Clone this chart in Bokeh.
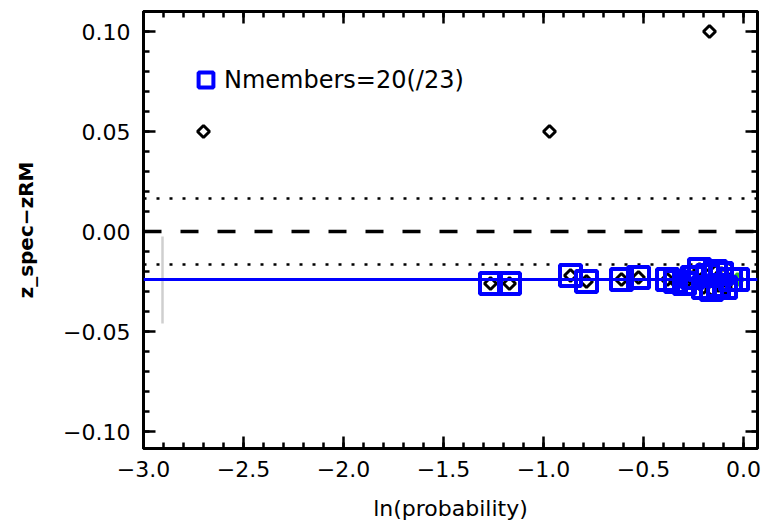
import math

from bokeh.plotting import figure
from bokeh.models import (Range1d, Span, LinearAxis, SingleIntervalTicker,
                          CustomJSTickFormatter, CustomLabelingPolicy,
                          Legend, LegendItem)
from bokeh.embed import file_html
from bokeh.resources import INLINE

# ln(probability) and z_spec - zRM for the confirmed cluster members
member_lnp = [-1.265, -1.170, -0.865, -0.785, -0.610, -0.525,
              -0.380, -0.340, -0.295, -0.255, -0.220, -0.200,
              -0.180, -0.160, -0.140, -0.125, -0.110, -0.090,
              -0.065]
member_dz = [-0.026, -0.026, -0.022, -0.025, -0.024, -0.023,
             -0.024, -0.025, -0.026, -0.023, -0.019, -0.028,
             -0.022, -0.029, -0.020, -0.027, -0.021, -0.028,
             -0.024]

# central galaxy (also a member)
bcg_lnp = [-0.030]
bcg_dz = [-0.024]

# galaxies with a spectroscopic redshift that are not members
other_lnp = [-2.70, -0.97, -0.17]
other_dz = [0.050, 0.050, 0.100]

# reference levels
zero_level = 0.0
clip_level = 0.0165
mean_offset = -0.024

# scatter bar drawn at the left edge
bar_x = -2.905
bar_lo = -0.046
bar_hi = -0.0025

n_members = 20
n_total = 23

FONT = "DejaVu Sans"

p = figure(frame_width=614, frame_height=437,
           x_range=Range1d(-3.0, 0.07), y_range=Range1d(-0.1085, 0.110),
           min_border_left=143, min_border_right=10,
           min_border_top=11, min_border_bottom=81,
           output_backend="svg", toolbar_location=None,
           x_axis_label="ln(probability)", y_axis_label="z_spec\u2212zRM")

p.background_fill_color = "white"
p.border_fill_color = "white"
p.outline_line_color = "black"
p.outline_line_width = 3
p.grid.visible = False

fmt_x = CustomJSTickFormatter(code="""
    if (Math.abs(tick) < 1e-9) { tick = 0; }
    return tick.toFixed(1).replace('-', '\\u2212');
""")
fmt_y = CustomJSTickFormatter(code="""
    if (Math.abs(tick) < 1e-9) { tick = 0; }
    return tick.toFixed(2).replace('-', '\\u2212');
""")

# mirrored axes carry ticks only
no_labels = CustomLabelingPolicy(code="""
    for (const i of Array.from(indices)) { indices.unset(i) }
    return indices
""")

x_ticker = SingleIntervalTicker(interval=0.5, num_minor_ticks=5)
y_ticker = SingleIntervalTicker(interval=0.05, num_minor_ticks=5)


def style_axis(ax, labelled):
    ax.axis_line_color = "black"
    ax.axis_line_width = 3
    ax.major_tick_in = 12
    ax.major_tick_out = 0
    ax.minor_tick_in = 6
    ax.minor_tick_out = 0
    ax.major_tick_line_width = 2.5
    ax.minor_tick_line_width = 2.5
    ax.major_tick_line_color = "black"
    ax.minor_tick_line_color = "black"
    if labelled:
        ax.major_label_text_font = FONT
        ax.major_label_text_font_size = "22px"
        ax.major_label_text_color = "black"
        ax.axis_label_text_font = FONT
        ax.axis_label_text_font_size = "22px"
        ax.axis_label_text_font_style = "normal"
        ax.axis_label_text_color = "black"
    else:
        ax.major_label_policy = no_labels
        ax.major_label_text_font_size = "2px"
        ax.major_label_standoff = 0


xa = p.xaxis[0]
xa.ticker = x_ticker
xa.formatter = fmt_x
style_axis(xa, True)
xa.major_label_standoff = 12
xa.axis_label_standoff = 16

ya = p.yaxis[0]
ya.ticker = y_ticker
ya.formatter = fmt_y
style_axis(ya, True)
ya.major_label_standoff = 13
ya.axis_label_standoff = 22
ya.axis_label_text_font_size = "20px"
ya.axis_label_text_font_style = "bold"

top_ax = LinearAxis(ticker=x_ticker)
style_axis(top_ax, False)
p.add_layout(top_ax, "above")

right_ax = LinearAxis(ticker=y_ticker)
style_axis(right_ax, False)
p.add_layout(right_ax, "right")

# clipping band and zero offset
for lvl in (clip_level, -clip_level):
    p.add_layout(Span(location=lvl, dimension="width", line_color="black",
                      line_width=2.5, line_dash="3 10", level="underlay"))
p.add_layout(Span(location=zero_level, dimension="width", line_color="black",
                  line_width=3.5, line_dash="18 19", level="underlay"))

# scatter bar
p.segment(x0=[bar_x], y0=[bar_lo], x1=[bar_x], y1=[bar_hi],
          line_color="#cfcfcf", line_width=2.5)

# all galaxies as open diamonds (squares turned by 45 degrees)
all_lnp = other_lnp + member_lnp
all_dz = other_dz + member_dz
p.scatter(all_lnp, all_dz, marker="square", angle=math.pi / 4, size=8.5,
          fill_color=None, line_color="black", line_width=3)
p.scatter(bcg_lnp, bcg_dz, marker="square", angle=math.pi / 4, size=8.5,
          fill_color="#44dd22", line_color="#33bb22", line_width=3)

# members boxed in blue
boxes = p.scatter(member_lnp + bcg_lnp, member_dz + bcg_dz, marker="square",
                  size=21, fill_color=None, line_color="#0000ff",
                  line_width=4)

# mean offset of the members
p.add_layout(Span(location=mean_offset, dimension="width",
                  line_color="#0000ff", line_width=3))

legend = Legend(items=[LegendItem(label="Nmembers=%d(/%d)" % (n_members, n_total),
                                  renderers=[boxes])],
                location=(44, 350), border_line_color=None,
                background_fill_alpha=0, padding=0, margin=0,
                glyph_width=37, glyph_height=37, label_standoff=0,
                label_text_font=FONT, label_text_font_size="24px",
                label_text_color="black")
p.add_layout(legend)

open("out.html", "w").write(file_html(p, INLINE))
